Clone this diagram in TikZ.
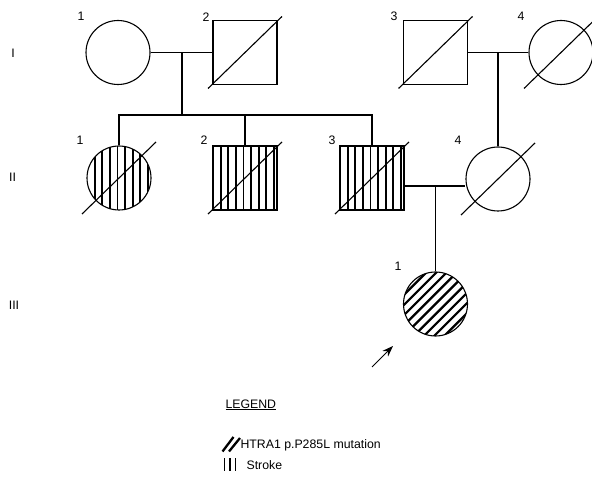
\documentclass[tikz,border=0pt]{standalone}
\usepackage{fontspec}
\setmainfont{Liberation Sans}
\usetikzlibrary{arrows.meta,calc}
\begin{document}
\begin{tikzpicture}[x=1pt,y=-1pt,
  line width=1.1pt,
  every node/.style={inner sep=0pt,font=\fontsize{12.3}{14}\selectfont},
  female/.style={circle,draw,minimum size=64},
  male/.style={rectangle,draw,minimum size=64},
  stripes/.style={path picture={
    \foreach \k in {1,...,8}{
      \draw[line width=1.8pt] ($(path picture bounding box.center)+(-32+7.6*\k,-40)$) -- ++(0,80);}}},
  hatch/.style={path picture={
    \foreach \k in {-6,...,6}{
      \draw[line width=2.2pt] ($(path picture bounding box.center)+(5.1*\k,5.1*\k)+(-50,50)$) -- ++(100,-100);}}},
  slash/.style={line width=1.1pt},
  lbl/.style={anchor=center},
  conn/.style={line width=1.1pt}
]
\useasboundingbox (0,0) rectangle (592,478);

% Generation labels
\node[lbl] (gI) at (13,53) {I};
\node[lbl] (gII) at (12.5,177.5) {II};
\node[lbl] (gIII) at (14,305) {III};

% Generation I
\node[female] (i1) at (118,52.5) {};
\node[male] (i2) at (245,52.5) {};
\node[male] (i3) at (435.5,52.5) {};
\node[female] (i4) at (561,52.5) {};
\draw[slash] (i2.center) +(-37,36) -- +(37,-36);
\draw[slash] (i3.center) +(-37,36) -- +(37,-36);
\draw[slash] (i4.center) +(-37,36) -- +(37,-36);

\node[lbl] (n11) at (81,16) {1};
\node[lbl] (n12) at (206,17) {2};
\node[lbl] (n13) at (394,16) {3};
\node[lbl] (n14) at (521,16) {4};

% Generation II
\node[female,stripes] (ii1) at (119,178) {};
\node[male,stripes] (ii2) at (245,178) {};
\node[male,stripes] (ii3) at (372,178) {};
\node[female] (ii4) at (498,179) {};
\draw[slash] (ii1.center) +(-37,36) -- +(37,-36);
\draw[slash] (ii2.center) +(-37,36) -- +(37,-36);
\draw[slash] (ii3.center) +(-37,36) -- +(37,-36);
\draw[slash] (ii4.center) +(-37,36) -- +(37,-36);

\node[lbl] (n21) at (80,140) {1};
\node[lbl] (n22) at (204,140) {2};
\node[lbl] (n23) at (332,140) {3};
\node[lbl] (n24) at (458,140) {4};

% Generation III
\node[female,hatch] (iii1) at (435.5,304) {};
\node[lbl] (n31) at (398,266) {1};

% Connectors
\coordinate (m1) at (182,52.7);
\coordinate (s1) at (182,115);
\coordinate (m3) at (498,52.7);
\coordinate (m2) at (435.5,186);
\draw[conn] (i1.east) -- (i2.west);
\draw[conn] (m1) -- (s1);
\draw[conn] (ii1.north) |- (s1);
\draw[conn] (ii3.north) |- (s1);
\draw[conn] (ii2.north) -- (ii2.north |- s1);
\draw[conn] (i3.east) -- (i4.west);
\draw[conn] (m3) -- (ii4.north);
\draw[conn] (m2 -| ii3.east) -- (m2 -| ii4.west);
\draw[conn] (m2) -- (iii1.north);

% Proband arrow
\coordinate (a0) at (372,367);
\coordinate (a1) at (393,346);
\draw[line width=1pt,-{Stealth[length=11pt,width=8pt]}] (a0) -- (a1);

% Legend
\node[anchor=base west] (leg) at (225,408) {\underline{LEGEND}};
\draw[line width=2.3pt] (222.5,451.5) -- (233.5,437);
\draw[line width=2.3pt] (229,451.5) -- (240,438);
\node[anchor=base west] (lm) at (240,448) {HTRA1 p.P285L mutation};
\draw[line width=1.8pt] (224.5,458) -- (224.5,471);
\draw[line width=1.8pt] (230,458) -- (230,471);
\draw[line width=1.8pt] (235.5,458) -- (235.5,471);
\node[anchor=base west] (ls) at (246,469) {Stroke};
\end{tikzpicture}
\end{document}
